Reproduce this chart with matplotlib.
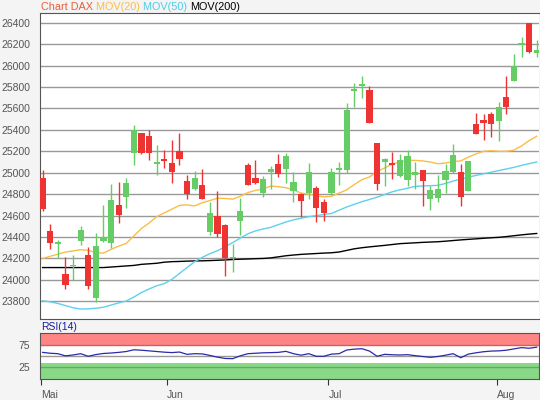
import numpy as np
import matplotlib
matplotlib.use('Agg')
import matplotlib.pyplot as plt

plt.rcParams['font.family'] = ['Liberation Sans', 'DejaVu Sans']

# daily candles (open, high, low, close)
opens = [24953, 24456, 24331, 24053, 24128, 24366, 24231, 23831, 24362, 24347,
         24700, 24772, 25185, 25369, 25338, 25084, 25131, 25090, 25205, 24925,
         24850, 24887, 24450, 24597, 24509, 24205, 24553, 25075, 24950, 24815,
         25003, 25084, 25037, 24831, 24800, 24812, 24853, 24728, 24812, 25028,
         25028, 25765, 25806, 25775, 25280, 25100, 25090, 24972, 24934, 24975,
         25028, 24759, 24768, 24928, 25006, 25003, 24831, 25453, 25494, 25548,
         25478, 25711, 25855, 26195, 26400, 26120]
highs = [25028, 24522, 24372, 24216, 24231, 24503, 24303, 24434, 24700, 24897,
         24909, 24950, 25446, 25375, 25400, 25255, 25216, 25308, 25375, 24981,
         25019, 25037, 24731, 24831, 24522, 24331, 24762, 25090, 25116, 24965,
         25066, 25178, 25184, 25003, 24815, 25094, 24875, 24759, 25041, 25100,
         25655, 25838, 25900, 25812, 25280, 25137, 25194, 25170, 25210, 25103,
         25028, 24872, 24981, 25084, 25270, 25084, 25112, 25557, 25545, 25570,
         25656, 25900, 26108, 26268, 26400, 26236]
lows = [24647, 24291, 24200, 23919, 24003, 24325, 23919, 23797, 24355, 24294,
        24534, 24675, 25069, 25170, 25122, 24981, 25044, 24903, 25069, 24756,
        24834, 24756, 24419, 24397, 24034, 24075, 24419, 24881, 24897, 24772,
        24847, 24956, 24903, 24731, 24591, 24759, 24544, 24553, 24790, 24887,
        24997, 25612, 25700, 25460, 24834, 24872, 24937, 24960, 24872, 24844,
        24693, 24653, 24731, 24812, 25000, 24693, 24825, 25362, 25306, 25331,
        25293, 25546, 25855, 26079, 26117, 26079]
closes = [24662, 24341, 24356, 23956, 24138, 24466, 23944, 24316, 24403, 24747,
          24606, 24900, 25400, 25180, 25185, 25103, 25106, 25003, 25128, 24800,
          24950, 24756, 24628, 24428, 24200, 24213, 24644, 24887, 24903, 24940,
          25034, 24987, 25153, 24909, 24737, 25003, 24672, 24625, 25003, 25041,
          25584, 25784, 25825, 25460, 24897, 25131, 25072, 25122, 25153, 25003,
          24919, 24840, 24847, 25016, 25169, 24769, 25112, 25362, 25463, 25454,
          25617, 25617, 25997, 26211, 26126, 26142]

mov20 = [24200, 24220, 24240, 24260, 24270, 24282, 24275, 24255, 24250, 24285,
         24315, 24340, 24410, 24480, 24530, 24590, 24625, 24660, 24695, 24700,
         24690, 24720, 24740, 24762, 24760, 24753, 24780, 24815, 24835, 24850,
         24875, 24870, 24860, 24840, 24810, 24800, 24785, 24775, 24780, 24810,
         24840, 24890, 24935, 24960, 25010, 25045, 25080, 25100, 25115, 25115,
         25110, 25100, 25084, 25090, 25105, 25110, 25145, 25175, 25200, 25205,
         25200, 25200, 25210, 25250, 25300, 25340]
mov50 = [23805, 23795, 23780, 23760, 23740, 23728, 23730, 23735, 23745, 23765,
         23785, 23803, 23840, 23882, 23915, 23945, 23965, 24005, 24060, 24115,
         24170, 24210, 24245, 24272, 24310, 24347, 24390, 24430, 24457, 24475,
         24490, 24515, 24540, 24560, 24575, 24590, 24600, 24610, 24620, 24650,
         24680, 24705, 24730, 24750, 24772, 24797, 24822, 24840, 24855, 24872,
         24876, 24879, 24882, 24900, 24922, 24940, 24957, 24975, 24990, 25005,
         25020, 25035, 25050, 25068, 25085, 25100]
mov200 = [24115, 24115, 24115, 24115, 24115, 24115, 24115, 24115, 24115, 24120,
          24125, 24130, 24135, 24145, 24150, 24155, 24165, 24170, 24172, 24175,
          24177, 24178, 24180, 24183, 24186, 24190, 24193, 24195, 24198, 24200,
          24205, 24215, 24225, 24232, 24238, 24242, 24246, 24250, 24253, 24260,
          24275, 24290, 24300, 24308, 24315, 24322, 24330, 24338, 24342, 24346,
          24350, 24353, 24356, 24361, 24367, 24373, 24378, 24383, 24388, 24393,
          24397, 24404, 24412, 24420, 24427, 24433]

rsi = [58, 56, 55, 50, 52, 55, 49, 53, 55.5, 56.5,
       58, 60, 64, 63, 61.5, 60, 58.5, 57.5, 58.8, 53.5,
       55, 54.5, 51, 47, 44, 43.5, 50, 55, 56, 57,
       57.4, 58, 60.4, 55, 51.5, 55, 49, 49, 54, 55,
       63.5, 65.5, 66.5, 61, 49, 53.5, 52.5, 52, 52.7, 50.5,
       48.5, 46.6, 48.5, 51.5, 55, 45.8, 54, 57, 59.5, 61,
       61.5, 63, 66, 69, 67.5, 70]

month_labels = ['Mai', 'Jun', 'Jul', 'Aug']
month_pos = [-0.2, 16.3, 37.6, 59.8]

x = np.arange(len(closes))
o = np.array(opens)
c = np.array(closes)
up = c >= o

fig = plt.figure(figsize=(5.4, 4), dpi=100, facecolor='#f4f4f4')
ax = fig.add_axes([40/540, 1-319/400, 499/540, 306.3/400])
ax2 = fig.add_axes([40/540, 1-379/400, 499/540, 46.3/400])

# main chart
ax.set_facecolor('white')
ax.set_xlim(-0.35, 65.3)
ax.set_ylim(23635, 26493)
ax.set_yticks(np.arange(23800, 26401, 200))
ax.grid(axis='y', color='#999999', lw=1)
ax.set_axisbelow(True)
ax.set_xticks([])
ax.tick_params(axis='y', length=0, pad=7, labelsize=7.5, labelcolor='#555555')
for s in ax.spines.values():
    s.set_color('#555555')
ax.spines['right'].set_visible(False)

ax.plot(x, mov200, color='black', lw=1, zorder=2)
ax.plot(x, mov50, color='#5fd0ee', lw=1, zorder=2)
ax.plot(x, mov20, color='#fbbd45', lw=1, zorder=2)

cols = np.where(up, '#66cc66', '#ee3333')
ax.vlines(x, lows, highs, color=cols, lw=1, zorder=3)
h = np.maximum(np.abs(c - o), 8)
ax.bar(x, h, bottom=np.minimum(o, c), width=0.8, color=cols, zorder=4)

# title pieces in colours
fig.canvas.draw()
r = fig.canvas.get_renderer()
xpos = 41 / 540
for txt, col in [('Chart DAX ', '#e8603c'), ('MOV(20) ', '#fbbd45'),
                 ('MOV(50) ', '#4fcbe8'), ('MOV(200)', 'black')]:
    t = fig.text(xpos, 1 - 7/400, txt, color=col, fontsize=7.8, va='center', ha='left')
    bb = t.get_window_extent(renderer=r)
    xpos += bb.width / 540

# rsi panel
ax2.set_facecolor('white')
ax2.set_xlim(-0.35, 65.3)
ax2.set_ylim(-3.4, 103.4)
ax2.axhspan(75, 103.4, color='#ff8585', lw=0, zorder=0)
ax2.axhspan(-3.4, 34, color='#88d888', lw=0, zorder=0)
ax2.axhline(75, color='#cc6060', lw=1, zorder=1)
ax2.axhline(25, color='#5fae5f', lw=1, zorder=1)
ax2.axhline(50, color='#999999', lw=1, zorder=1)
ax2.plot(x, rsi, color='#2a2aaa', lw=0.9, zorder=3)
ax2.set_yticks([25, 75])
ax2.tick_params(axis='y', length=0, pad=7, labelsize=7.5, labelcolor='#555555')
ax2.set_xticks(month_pos)
ax2.set_xticklabels(month_labels, ha='left')
ax2.tick_params(axis='x', length=4, color='#333333', pad=4, labelsize=7.5, labelcolor='#555555')
for s in ax2.spines.values():
    s.set_color('#555555')
ax2.text(0.002, 1.02, 'RSI(14)', transform=ax2.transAxes, color='#1a1aa0',
         fontsize=7.5, va='bottom', ha='left')

plt.savefig('out.png', dpi=100, facecolor=fig.get_facecolor())
